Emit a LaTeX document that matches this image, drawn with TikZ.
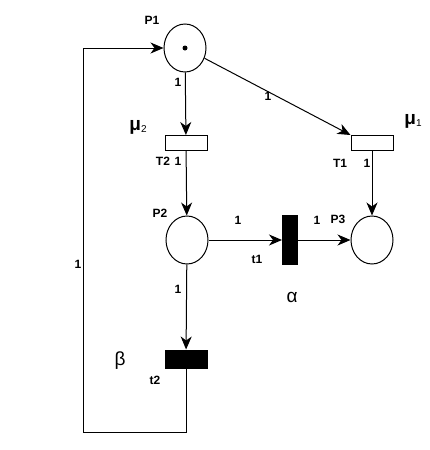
\documentclass[tikz,border=0pt]{standalone}
\usepackage{fontspec}
\setmainfont{Liberation Sans}
\usetikzlibrary{shapes.geometric,arrows.meta}

\begin{document}
\begin{tikzpicture}[x=1pt, y=-1pt, line width=1pt,
  place/.style={ellipse, draw, minimum width=42pt, minimum height=48pt, inner sep=0pt},
  trans/.style={rectangle, draw, minimum width=42pt, minimum height=15pt, inner sep=0pt},
  bar/.style={rectangle, draw, fill=black},
  arc/.style={-{Stealth[length=13pt, width=11pt, inset=4pt]}},
  lbl/.style={font=\bfseries\fontsize{12}{14}\selectfont, inner sep=0pt},
  greek/.style={font=\fontsize{19}{22}\selectfont, inner sep=0pt}]
  \useasboundingbox (0,0) rectangle (429,450);

  % places
  \node[place] (P1) at (185, 48) {};
  \node[place] (P2) at (187, 240) {};
  \node[place] (P3) at (372, 240) {};
  \fill (P1.center) circle (2.5pt);

  % transitions
  \node[trans] (T2) at (186, 143) {};
  \node[trans] (T1) at (372, 143) {};
  \node[bar, minimum width=15pt, minimum height=49pt, inner sep=0pt] (t1) at (290, 240) {};
  \node[bar, minimum width=42pt, minimum height=18pt, inner sep=0pt] (t2) at (186, 359) {};

  \coordinate (c1) at (186, 432);
  \coordinate (c2) at (83, 432);
  \coordinate (c3) at (83, 48);

  % arcs
  \draw[arc] (P1) -- (T2);
  \draw[arc] (P1) -- (T1.north west);
  \draw[arc] (T2) -- (P2);
  \draw[arc] (T1) -- (P3);
  \draw[arc] (P2) -- (t1);
  \draw[arc] (t1) -- (P3);
  \draw[arc] (P2) -- (t2);
  \draw[arc] (t2.south) -- (c1) -- (c2) -- (c3) -- (P1);

  % labels
  \node[lbl] at (152, 20) {P1};
  \node[lbl] at (160, 213) {P2};
  \node[lbl] at (338, 219) {P3};
  \node[lbl] at (163, 161) {T2};
  \node[lbl] at (340, 163) {T1};
  \node[lbl] at (257, 259) {t1};
  \node[lbl] at (155, 380) {t2};
  \node[lbl] at (178, 82) {1};
  \node[lbl] at (268, 96) {1};
  \node[lbl] at (178, 161) {1};
  \node[lbl] at (367, 163) {1};
  \node[lbl] at (238, 220) {1};
  \node[lbl] at (317, 220) {1};
  \node[lbl] at (178, 289) {1};
  \node[lbl] at (78, 264) {1};
  \node[greek] at (138, 127) {\bfseries μ\fontsize{10}{12}\selectfont\raisebox{-2pt}{\mdseries 2}};
  \node[greek] at (413, 121) {\bfseries μ\fontsize{10}{12}\selectfont\raisebox{-2pt}{\mdseries 1}};
  \node[greek] at (292, 297) {α};
  \node[greek] at (120, 361) {β};
\end{tikzpicture}
\end{document}
